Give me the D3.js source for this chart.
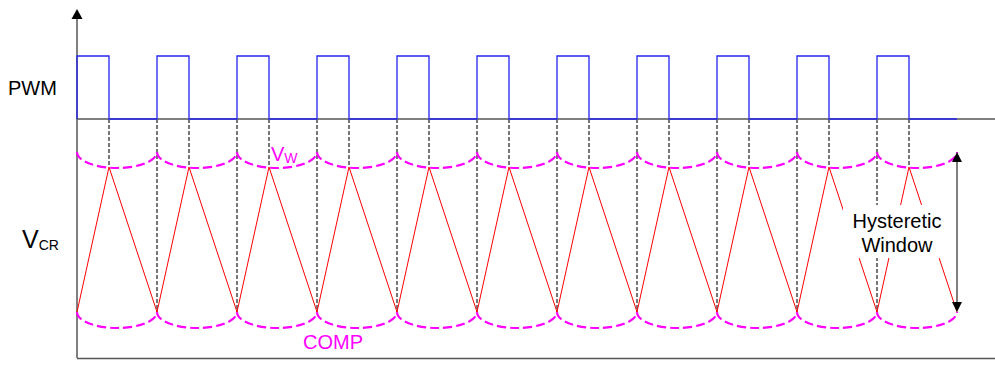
<!DOCTYPE html>
<html>
<head>
<meta charset="utf-8">
<script src="https://cdn.jsdelivr.net/npm/d3@7"></script>
<style>
  html, body { margin: 0; padding: 0; background: #fff; }
  svg { display: block; font-family: Arial, "Liberation Sans", sans-serif; }
</style>
</head>
<body>
<div id="chart"></div>
<script>
/* ── DATA (time in switching periods) ── */
const riseTimes  = [0, 1, 2, 3, 4, 5, 6, 7, 8, 9, 10];
const fallTimes  = [0.4, 1.4, 2.4, 3.4, 4.4, 5.4, 6.4, 7.4, 8.4, 9.4, 10.4];
const endTime    = 11;
const pwmLevels  = { low: 0, high: 1 };
const compLevel  = 0;      // valley of V_CR
const peakLevel  = 9.06;   // top of V_CR ramp
const vwLevel    = 10;     // window top (cusp level)
const arcDepth   = 1;      // sag of dashed arcs

const W = 995, H = 365;

/* ── SCALES ── */
const x    = d3.scaleLinear().domain([0, endTime]).range([77, 957]);
const yPwm = d3.scaleLinear().domain([0, 1]).range([119, 56]);
const yV   = d3.scaleLinear().domain([0, 10]).range([312, 152]);

const svg = d3.select('#chart').append('svg').attr('width', W).attr('height', H);

/* ── AXES ── */
svg.append('line').attr('x1', 77).attr('x2', 77).attr('y1', 358).attr('y2', 18)
  .attr('stroke', '#555').attr('stroke-width', 1.5);
svg.append('path').attr('d', 'M71.5,19 L77,9 L82.5,19 Z').attr('fill', '#000');
svg.append('line').attr('x1', 77).attr('x2', 995).attr('y1', 358.5).attr('y2', 358.5)
  .attr('stroke', '#555').attr('stroke-width', 1.5);
svg.append('line').attr('x1', 77).attr('x2', 995).attr('y1', yPwm(0)).attr('y2', yPwm(0))
  .attr('stroke', '#555').attr('stroke-width', 1.5);

/* ── GRAY DASHED EDGE GUIDES ── */
const g = svg.append('g');
riseTimes.slice(1).forEach(t => {
  g.append('line').attr('x1', x(t)).attr('x2', x(t))
    .attr('y1', yPwm(0)).attr('y2', yV(compLevel))
    .attr('stroke', '#777').attr('stroke-width', 2).attr('stroke-dasharray', '4,2');
});
fallTimes.forEach(t => {
  g.append('line').attr('x1', x(t)).attr('x2', x(t))
    .attr('y1', yPwm(0)).attr('y2', yV(peakLevel))
    .attr('stroke', '#777').attr('stroke-width', 2).attr('stroke-dasharray', '4,2');
});

/* ── PWM ── */
const pwmPts = [];
riseTimes.forEach((t, i) => {
  pwmPts.push([t, pwmLevels.low], [t, pwmLevels.high], [fallTimes[i], pwmLevels.high], [fallTimes[i], pwmLevels.low]);
});
pwmPts.push([endTime, pwmLevels.low]);
svg.append('path').datum(pwmPts)
  .attr('d', d3.line().x(d => x(d[0])).y(d => yPwm(d[1])))
  .attr('fill', 'none').attr('stroke', '#2424f0').attr('stroke-width', 1.3);

/* ── V_CR TRIANGLE ── */
const triPts = [];
riseTimes.forEach((t, i) => { triPts.push([t, compLevel], [fallTimes[i], peakLevel]); });
triPts.push([endTime, compLevel]);
svg.append('path').datum(triPts)
  .attr('d', d3.line().x(d => x(d[0])).y(d => yV(d[1])))
  .attr('fill', 'none').attr('stroke', '#ff0000').attr('stroke-width', 1);

/* ── DASHED ARCS (V_W and COMP) ── */
const edges = riseTimes.concat([endTime]);
const rY = yV(0) - yV(arcDepth);
function arcs(level) {
  let d = '';
  for (let i = 0; i < edges.length - 1; i++) {
    const x0 = x(edges[i]), x1 = x(edges[i + 1]);
    d += `M${x0},${yV(level)} A${(x1 - x0) / 2},${rY} 0 0 0 ${x1},${yV(level)} `;
  }
  return d;
}
[vwLevel, compLevel].forEach(lv => {
  svg.append('path').attr('d', arcs(lv))
    .attr('fill', 'none').attr('stroke', '#ff00ff').attr('stroke-width', 2.2)
    .attr('stroke-dasharray', '9,4');
});

/* ── HYSTERETIC WINDOW ARROW ── */
const ax = x(endTime);
svg.append('line').attr('x1', ax).attr('x2', ax).attr('y1', yV(vwLevel) + 9).attr('y2', yV(compLevel) - 9)
  .attr('stroke', '#555').attr('stroke-width', 1.5);
svg.append('path').attr('d', `M${ax - 5},${yV(vwLevel) + 10} L${ax},${yV(vwLevel)} L${ax + 5},${yV(vwLevel) + 10} Z`).attr('fill', '#000');
svg.append('path').attr('d', `M${ax - 5},${yV(compLevel) - 10} L${ax},${yV(compLevel)} L${ax + 5},${yV(compLevel) - 10} Z`).attr('fill', '#000');

svg.append('rect').attr('x', 843).attr('y', 205).attr('width', 102).attr('height', 53).attr('fill', '#fff');
svg.append('text').attr('x', 897).attr('y', 228).attr('text-anchor', 'middle')
  .attr('font-size', 20).attr('fill', '#000').text('Hysteretic');
svg.append('text').attr('x', 897).attr('y', 252).attr('text-anchor', 'middle')
  .attr('font-size', 20).attr('fill', '#000').text('Window');

/* ── LABELS ── */
svg.append('text').attr('x', 8).attr('y', 95).attr('font-size', 20).attr('fill', '#000').text('PWM');

const vcr = svg.append('text').attr('x', 22).attr('y', 248).attr('fill', '#000');
vcr.append('tspan').attr('font-size', 25).text('V');
vcr.append('tspan').attr('font-size', 14).attr('dy', 2).text('CR');

const vw = svg.append('text').attr('x', 271).attr('y', 161).attr('fill', '#ff00ff');
vw.append('tspan').attr('font-size', 20).text('V');
vw.append('tspan').attr('font-size', 14).attr('dy', 2).text('W');

svg.append('text').attr('x', 303).attr('y', 349).attr('font-size', 20).attr('fill', '#ff00ff').text('COMP');
</script>
</body>
</html>
